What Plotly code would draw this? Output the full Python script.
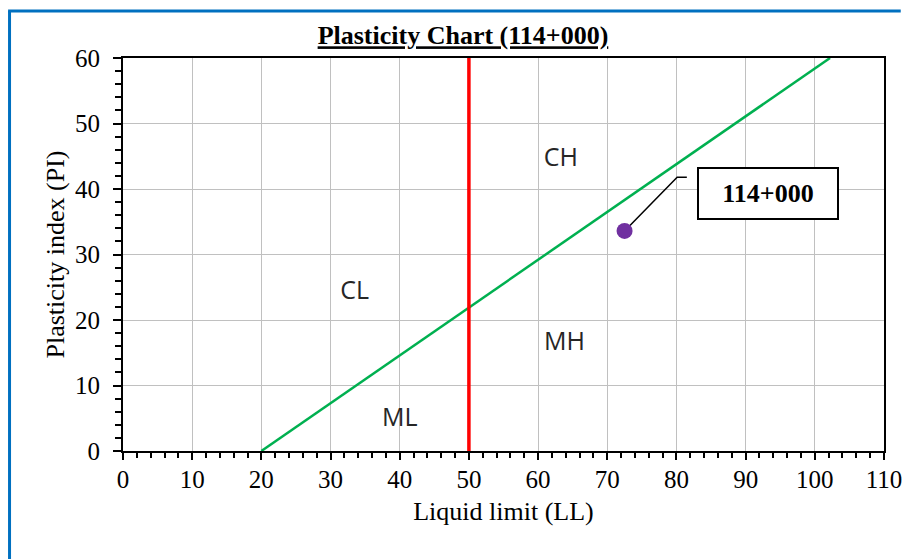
import plotly.graph_objects as go

# ---- data ----
a_line_ll = [20, 102.2]
a_line_pi = [0, 60]
ll50_x = [50, 50]
ll50_y = [0, 60]
sample_name = ["114+000"]
sample_ll = [72.5]
sample_pi = [33.6]
zone_labels = ["CH", "CL", "MH", "ML"]
zone_ll = [63.3, 33.5, 63.8, 40.0]
zone_pi = [44.4, 24.1, 16.3, 4.7]
leader_ll = [72.5, 80.1, 81.5]
leader_pi = [33.6, 41.8, 41.8]
label_box_ll = [93.2]
label_box_pi = [39.3]
x_ticks = list(range(0, 111, 10))
y_ticks = list(range(0, 61, 10))

SERIF = "Liberation Serif, Times New Roman, serif"
SANS = "Open Sans, Noto Sans, sans-serif"

fig = go.Figure()

fig.add_trace(go.Scatter(x=a_line_ll, y=a_line_pi, mode="lines",
                         line=dict(color="#00B050", width=2.5), showlegend=False, hoverinfo="skip"))
fig.add_trace(go.Scatter(x=ll50_x, y=ll50_y, mode="lines",
                         line=dict(color="#FF0000", width=3.5), showlegend=False, hoverinfo="skip"))
fig.add_trace(go.Scatter(x=leader_ll, y=leader_pi, mode="lines",
                         line=dict(color="#000000", width=1.5), showlegend=False, hoverinfo="skip"))
fig.add_trace(go.Scatter(x=sample_ll, y=sample_pi, mode="markers",
                         marker=dict(color="#7030A0", size=16), showlegend=False,
                         name=sample_name[0]))
fig.add_trace(go.Scatter(x=zone_ll, y=zone_pi, mode="text", text=zone_labels,
                         textfont=dict(family=SANS, size=25, color="#262626"),
                         showlegend=False, hoverinfo="skip"))

fig.add_annotation(x=label_box_ll[0], y=label_box_pi[0], xref="x", yref="y",
                   text="<b>" + sample_name[0] + "</b>", showarrow=False,
                   font=dict(family=SERIF, size=26, color="#000000"),
                   bordercolor="#000000", borderwidth=2, borderpad=2,
                   bgcolor="#FFFFFF", width=134, height=45)

# outer blue frame (top and left)
fig.add_shape(type="line", xref="paper", yref="paper", x0=-0.151, x1=1.022, y0=1.1196, y1=1.1196,
              line=dict(color="#0070C0", width=3))
fig.add_shape(type="line", xref="paper", yref="paper", x0=-0.1491, x1=-0.1491, y0=1.1196, y1=-0.28,
              line=dict(color="#0070C0", width=3))

axis_common = dict(
    showgrid=True, gridcolor="#C0C0C0", gridwidth=1,
    showline=True, linecolor="#000000", linewidth=2, mirror=True,
    ticks="outside", tickwidth=1.5, tickcolor="#000000",
    tickfont=dict(family=SERIF, size=25, color="#000000"),
    zeroline=False, automargin=False,
)

fig.update_xaxes(range=[0, 110], tickvals=x_ticks, ticklen=7, ticklabelstandoff=-2,
                 minor=dict(dtick=2, ticks="outside", ticklen=5, tickwidth=1.5, tickcolor="#000000", showgrid=False),
                 title=dict(text="Liquid limit (LL)", font=dict(family=SERIF, size=26, color="#000000"), standoff=10),
                 **axis_common)
fig.update_yaxes(range=[0, 60], tickvals=y_ticks, ticklen=8, ticklabelstandoff=8,
                 minor=dict(dtick=2, ticks="outside", ticklen=6, tickwidth=1.5, tickcolor="#000000", showgrid=False),
                 title=dict(text="Plasticity index (PI)", font=dict(family=SERIF, size=26, color="#000000"), standoff=3),
                 **axis_common)

fig.update_layout(
    width=906, height=559,
    margin=dict(l=123, r=22, t=58, b=108),
    paper_bgcolor="#FFFFFF", plot_bgcolor="#FFFFFF",
    title=dict(text="<b><u>Plasticity Chart (114+000)</u></b>", x=0.511, xref="container",
               y=0.937, yref="container", xanchor="center", yanchor="middle",
               font=dict(family=SERIF, size=26, color="#000000")),
    showlegend=False,
)

fig.write_html("out.html", config={"displayModeBar": False},
               post_script="document.body.style.margin='0';document.body.style.overflow='hidden';")
